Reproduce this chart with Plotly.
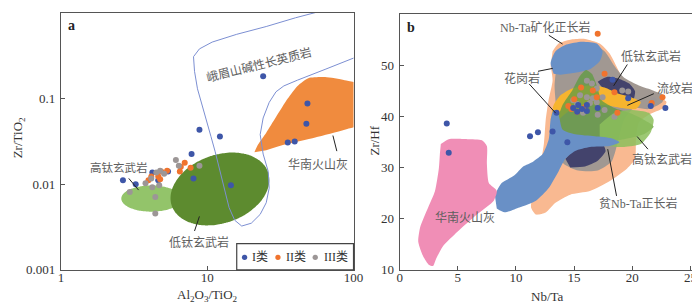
import numpy as np
import plotly.graph_objects as go

W, H = 700, 304

# ---------------- Panel a data (Al2O3/TiO2 vs Zr/TiO2) ----------------
a_I_x = [24.1, 48.4, 47.6, 35.5, 39.6, 8.84, 12.2, 7.81, 2.65, 3.24, 4.21, 5.39, 8.05, 14.5, 4.62]
a_I_y = [0.1825, 0.0878, 0.0507, 0.0308, 0.0316, 0.0433, 0.036, 0.0225, 0.0111, 0.0100, 0.0137, 0.0141, 0.0117, 0.00974, 0.0111]
a_II_x = [7.01, 6.59, 7.69, 6.49, 5.31, 4.84, 4.62, 4.14, 4.76, 3.96]
a_II_y = [0.0178, 0.016, 0.0156, 0.0141, 0.0144, 0.0141, 0.0123, 0.0123, 0.0114, 0.0111]
a_III_x = [6.1, 6.39, 8.84, 4.76, 4.48, 5.07, 4.14, 3.78, 4.21, 4.69, 2.95, 4.41, 4.41]
a_III_y = [0.0192, 0.0164, 0.0164, 0.0144, 0.0137, 0.0133, 0.0117, 0.0103, 0.00925, 0.00974, 0.0081, 0.0071, 0.00456]

# field outlines, panel a (data units)
a_hnash_x = [21.0, 22.3, 25.3, 29.5, 35.5, 41.4, 49.1, 63.9, 87.0, 118.5, 118.5, 87.0, 54.7, 34.4, 25.3]
a_hnash_y = [0.0237, 0.0292, 0.040, 0.0608, 0.1, 0.1405, 0.173, 0.178, 0.164, 0.1405, 0.052, 0.0433, 0.0351, 0.0292, 0.025]
a_emei_x = [63.9, 40.2, 25.3, 15.9, 10.8, 8.84, 8.05, 8.18, 8.57, 9.25, 10.0, 10.6, 11.3, 12.0, 12.8, 14.1, 15.4, 17.2,
            20.0, 23.0, 25.3, 26.5, 26.1, 24.1, 23.0, 24.1, 26.5, 29.5, 33.4, 41.4, 63.9, 98.4, 118.5]
a_emei_y = [1.08, 0.877, 0.693, 0.562, 0.456, 0.380, 0.308, 0.208, 0.130, 0.0832, 0.0534, 0.036, 0.0243, 0.0164, 0.0103,
            0.00533, 0.0038, 0.00325, 0.00351, 0.00445, 0.00608, 0.0090, 0.0141, 0.0225, 0.038, 0.0593, 0.0901, 0.120,
            0.1405, 0.164, 0.219, 0.292, 0.333]
# ellipse fields: centre (x, y) and conjugate semi-diameters in decades
hiti_a = dict(cx=4.14, cy=0.0068, u=(0.205, 0.0), v=(0.0, 0.153))
loti_a = dict(cx=12.2, cy=0.0088, u=(0.328, 0.202), v=(-0.0805, 0.374))

# ---------------- Panel b data (Nb/Ta vs Zr/Hf) ----------------
b_I_x = [4.05, 4.22, 11.21, 11.89, 13.15, 13.49, 14.42, 14.92, 15.35, 15.68, 16.1, 16.1, 15.26, 17.03, 18.3, 19.65, 21.59, 22.85]
b_I_y = [38.57, 32.86, 36.1, 36.86, 37.05, 40.67, 34.95, 41.62, 42.19, 41.43, 42.19, 41.05, 40.86, 41.62, 47.14, 43.52, 42.0, 41.62]
b_II_x = [17.03, 17.62, 15.6, 16.61, 18.47, 15.01, 16.95, 14.5, 14.76, 15.26, 15.94, 18.72, 21.67, 22.6]
b_II_y = [56.1, 48.29, 45.62, 45.05, 44.67, 43.33, 43.71, 42.0, 41.43, 40.86, 41.81, 40.67, 42.57, 43.71]
b_III_x = [16.1, 16.53, 16.95, 15.51, 16.1, 16.61, 14.92, 15.26, 16.36, 16.95, 15.77, 17.03, 17.62, 18.47, 19.14, 19.65, 21.84, 17.45]
b_III_y = [46.95, 46.38, 45.43, 44.1, 43.71, 43.52, 43.14, 42.38, 42.57, 42.76, 40.67, 40.29, 41.24, 39.9, 45.05, 44.86, 43.14, 43.71]

# field outlines, panel b (data units)
peach_x = [13.15, 13.66, 14.67, 15.94, 17.2, 18.04, 18.72, 19.3, 20.57, 22.26, 22.94, 22.68, 21.42, 20.57, 20.32, 20.24,
           19.56, 18.04, 16.36, 14.67, 13.4, 12.56, 11.72, 11.3, 11.47, 11.97, 12.4, 12.56, 12.8, 13.15, 12.98]
peach_y = [52.7, 54.2, 54.95, 55.1, 54.2, 52.3, 49.4, 47.0, 45.05, 43.7, 42.8, 41.6, 40.3, 38.8, 35.5, 31.7,
           29.8, 27.3, 25.4, 24.7, 23.1, 21.2, 20.8, 22.2, 25.0, 28.9, 34.6, 39.3, 43.1, 47.0, 49.8]
grey_x = [13.83, 14.84, 16.36, 17.62, 18.47, 19.31, 20.57, 21.84, 22.68, 22.6, 21.42, 20.15, 19.31, 18.72, 18.21, 17.03,
          15.35, 14.08, 13.4, 13.49, 13.32, 13.49]
grey_y = [51.7, 53.6, 54.2, 52.7, 49.8, 47.5, 46.0, 45.0, 44.1, 42.8, 41.4, 41.6, 39.3, 34.6, 31.1, 29.4,
          29.4, 30.8, 34.6, 40.3, 46.0, 49.8]
navy1_x = [17.03, 17.88, 18.89, 19.73, 20.24, 20.07, 19.31, 18.47, 17.62]
navy1_y = [46.76, 47.7, 47.3, 46.4, 44.9, 43.1, 42.8, 43.7, 45.0]
navy2_x = [14.25, 15.09, 16.36, 17.45, 17.71, 17.03, 15.94, 14.67]
navy2_y = [31.7, 33.6, 34.6, 34.6, 33.2, 31.3, 30.2, 30.0]
nbta_x = [13.24, 12.98, 13.4, 14.33, 15.68, 16.95, 17.45, 17.2, 16.36, 15.09, 13.83]
nbta_y = [48.3, 50.4, 52.7, 54.0, 54.57, 54.2, 52.67, 50.76, 49.2, 48.5, 48.1]
gran_x = [8.18, 8.77, 9.87, 10.62, 11.47, 12.31, 12.82, 12.98, 13.24, 13.66, 14.0, 15.09, 16.78, 18.21, 18.89, 18.04,
          16.36, 15.09, 14.25, 13.66, 12.82, 11.72, 10.29, 9.02, 8.35]
gran_y = [24.67, 26.95, 28.48, 30.19, 31.14, 32.67, 35.52, 39.33, 41.24, 40.29, 37.43, 36.48, 36.1, 35.71, 34.95, 34.19,
          34.0, 33.24, 31.71, 29.24, 26.0, 23.52, 22.19, 21.24, 22.0]
rhy_x = [12.98, 13.24, 13.83, 14.84, 16.36, 17.62, 18.72, 19.9, 20.74, 20.32, 19.06, 17.62, 15.94, 14.67, 13.66, 13.15]
rhy_y = [39.33, 42.19, 44.1, 45.43, 46.0, 45.62, 44.48, 43.71, 42.76, 41.43, 41.62, 42.19, 42.19, 41.24, 39.33, 38.38]
lotib_x = [13.49, 13.49, 14.0, 14.84, 15.51, 16.02, 16.53, 16.95, 17.37, 18.47, 19.73, 20.99, 21.84, 20.99, 19.31, 17.62, 15.94, 14.5]
lotib_y = [33.62, 38.38, 42.19, 45.05, 47.9, 49.05, 48.29, 46.0, 43.14, 41.62, 40.67, 39.33, 38.0, 36.48, 35.52, 34.95, 34.19, 33.24]
hitib_x = [17.2, 18.47, 19.9, 21.42, 21.84, 21.59, 20.74, 19.31, 18.04, 17.2]
hitib_y = [38.38, 40.67, 41.24, 40.67, 39.33, 36.86, 34.57, 34.0, 34.19, 35.52]
pink_x = [3.54, 4.22, 5.82, 7.08, 7.5, 7.5, 7.67, 8.35, 8.09, 6.66, 4.97, 3.71, 3.12, 2.87, 2.53, 2.02, 1.6, 1.77, 2.45, 3.04, 3.37, 3.46]
pink_y = [34.57, 35.52, 35.52, 35.33, 34.19, 30.76, 26.95, 25.43, 23.52, 20.86, 17.43, 14.57, 12.1, 10.76, 10.95, 12.67, 15.52, 18.38, 22.19, 25.43, 29.81, 32.67]

C_I, C_II, C_III = "#3E56A8", "#F0732D", "#9C9696"
SERIF = "Liberation Serif, Times New Roman, Noto Sans CJK SC"
CJK = "Liberation Serif, Noto Sans CJK SC"
LBL = "#5E5E5E"


def ellipse(e, n=120):
    t = np.linspace(0, 2 * np.pi, n)
    lx = np.log10(e["cx"]) + e["u"][0] * np.cos(t) + e["v"][0] * np.sin(t)
    ly = np.log10(e["cy"]) + e["u"][1] * np.cos(t) + e["v"][1] * np.sin(t)
    return 10 ** lx, 10 ** ly


fig = go.Figure()


def area(x, y, color, xa, ya):
    fig.add_trace(go.Scatter(x=x, y=y, mode="lines", fill="toself", fillcolor=color,
                             line=dict(width=0, color=color, shape="spline", smoothing=0.6), xaxis=xa, yaxis=ya,
                             hoverinfo="skip", showlegend=False))


# panel a fields
hx, hy = ellipse(hiti_a)
area(list(hx), list(hy), "#93C46A", "x", "y")
lx_, ly_ = ellipse(loti_a)
area(list(lx_), list(ly_), "#5D8B2F", "x", "y")
area(a_hnash_x, a_hnash_y, "#F08B3E", "x", "y")
fig.add_trace(go.Scatter(x=a_emei_x, y=a_emei_y, mode="lines", line=dict(color="#7C8FD2", width=1),
                         xaxis="x", yaxis="y", hoverinfo="skip", showlegend=False))

for xs, ys, c, nm in [(a_I_x, a_I_y, C_I, "I类"), (a_II_x, a_II_y, C_II, "II类"), (a_III_x, a_III_y, C_III, "III类")]:
    fig.add_trace(go.Scatter(x=xs, y=ys, mode="markers", marker=dict(size=6, color=c), name=nm,
                             xaxis="x", yaxis="y", showlegend=False))

# panel b fields
area(peach_x, peach_y, "#F9B991", "x2", "y2")
area(grey_x, grey_y, "#A19892", "x2", "y2")
area(navy2_x, navy2_y, "#43436C", "x2", "y2")
area(navy1_x, navy1_y, "#43436C", "x2", "y2")
area(nbta_x, nbta_y, "#6990C6", "x2", "y2")
area(rhy_x, rhy_y, "#F6B42E", "x2", "y2")
area(lotib_x, lotib_y, "rgba(98,155,66,0.78)", "x2", "y2")
area(hitib_x, hitib_y, "rgba(140,190,92,0.85)", "x2", "y2")
area(gran_x, gran_y, "#6990C6", "x2", "y2")
area(pink_x, pink_y, "#F08EB6", "x2", "y2")

for xs, ys, c, nm in [(b_III_x, b_III_y, C_III, "III类"), (b_II_x, b_II_y, C_II, "II类"), (b_I_x, b_I_y, C_I, "I类")]:
    fig.add_trace(go.Scatter(x=xs, y=ys, mode="markers", marker=dict(size=6, color=c), name=nm,
                             xaxis="x2", yaxis="y2", showlegend=False))


def P(x, y):
    return x / W, 1 - y / H


annotations = []
shapes = []


def label(text, x, y, size=12, angle=0, color=LBL, family=CJK, bold=False):
    px_, py_ = P(x, y)
    if bold:
        text = "<b>" + text + "</b>"
    annotations.append(dict(text=text, x=px_, y=py_, xref="paper", yref="paper", showarrow=False,
                            xanchor="center", yanchor="middle", textangle=angle,
                            font=dict(size=size, color=color, family=family)))


def leader(x0, y0, x1, y1):
    a0, b0 = P(x0, y0)
    a1, b1 = P(x1, y1)
    shapes.append(dict(type="line", xref="paper", yref="paper", x0=a0, y0=b0, x1=a1, y1=b1,
                       line=dict(color="#222222", width=1)))


# panel a labels
label("a", 62, 18, size=14, color="#222222", family=SERIF, bold=True)
label("峨眉山碱性长英质岩", 253, 58, angle=-14)
label("华南火山灰", 313, 161)
label("高钛玄武岩", 110, 164, size=11.5)
label("低钛玄武岩", 192, 241)
leader(328, 131, 332, 147)
leader(120, 175, 130, 187)
leader(192, 214, 187, 229)

# panel a legend box
x0, y0 = P(230, 242)
x1, y1 = P(349, 269)
shapes.append(dict(type="rect", xref="paper", yref="paper", x0=x0, y0=y1, x1=x1, y1=y0,
                   fillcolor="white", line=dict(color="#444444", width=1.2)))
for cx, tx, c, t in [(238, 254, C_I, "I类"), (272, 290, C_II, "II类"), (310, 331, C_III, "III类")]:
    a0, b0 = P(cx - 2.7, 256 - 2.7)
    a1, b1 = P(cx + 2.7, 256 + 2.7)
    shapes.append(dict(type="circle", xref="paper", yref="paper", x0=a0, y0=b1, x1=a1, y1=b0,
                       fillcolor=c, line=dict(width=0)))
    label(t, tx, 256, size=12, color="#333333", family=CJK)

# panel b labels
label("b", 408, 20, size=14, color="#222222", family=SERIF, bold=True)
label("Nb-Ta矿化正长岩", 544, 20)
label("低钛玄武岩", 652, 50)
label("流纹岩", 677, 83)
label("花岗岩", 521, 72)
label("高钛玄武岩", 663, 156)
label("贫Nb-Ta正长岩", 639, 201)
label("华南火山灰", 463, 215)
leader(548, 28, 562, 37)
leader(537, 65, 552, 62)
leader(528, 78, 555, 108)
leader(628, 58, 614, 80)
leader(655, 88, 628, 100)
leader(638, 132, 649, 145)
leader(608, 145, 617, 193)

# axis titles
label("Zr/TiO<sub>2</sub>", 8, 133, size=13, angle=-90, color="#333333", family=SERIF)
label("Al<sub>2</sub>O<sub>3</sub>/TiO<sub>2</sub>", 200, 295, size=13, color="#333333", family=SERIF)
label("Zr/Hf", 370, 136, size=13, angle=-90, color="#333333", family=SERIF)
label("Nb/Ta", 547, 296, size=13, color="#333333", family=SERIF)

axis_common = dict(showline=True, mirror=True, linecolor="#555555", linewidth=1.3, ticks="inside",
                   ticklen=4, tickcolor="#555555", showgrid=False, zeroline=False,
                   tickfont=dict(family=SERIF, size=13, color="#333333"))

fig.update_layout(
    width=W, height=H, margin=dict(l=0, r=0, t=0, b=0),
    paper_bgcolor="white", plot_bgcolor="white", showlegend=False,
    xaxis=dict(domain=[51 / W, 349 / W], type="log", range=[0, 2], tickvals=[1, 10, 100],
               ticktext=["1", "10", "100"], anchor="y", ticklabelstandoff=-5, **axis_common),
    yaxis=dict(domain=[1 - 269 / H, 1 - 5 / H], type="log", range=[-3, 0],
               tickvals=[0.001, 0.01, 0.1, 1], ticktext=["0.001", "0.01", "0.1", "1"], anchor="x",
               ticklabelstandoff=2, **axis_common),
    xaxis2=dict(domain=[396 / W, 697 / W], range=[0, 25.4], tickvals=[0, 5, 10, 15, 20, 25], anchor="y2",
                ticklabelstandoff=-5, **axis_common),
    yaxis2=dict(domain=[1 - 269 / H, 1 - 6 / H], range=[10, 60], tickvals=[10, 20, 30, 40, 50, 60], anchor="x2",
                ticklabelstandoff=2, **axis_common),
    annotations=annotations, shapes=shapes,
)

fig.write_html("out.html")
